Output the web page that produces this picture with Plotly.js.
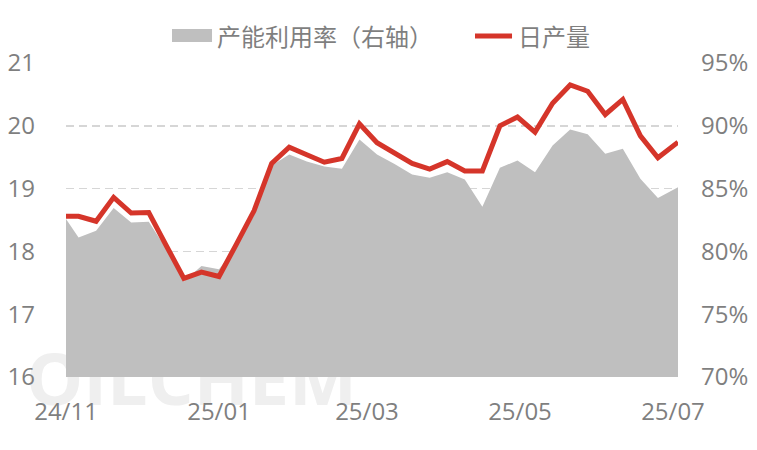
<!DOCTYPE html>
<html>
<head>
<meta charset="utf-8">
<script src="https://cdn.plot.ly/plotly-3.0.1.min.js"></script>
<style>html,body{margin:0;padding:0;background:#fff;}#chart{width:757px;height:450px;}</style>
</head>
<body>
<div id="chart"></div>
<script>
const dates = [
  '2024-11-01','2024-11-06','2024-11-13','2024-11-20','2024-11-27',
  '2024-12-04','2024-12-11','2024-12-18','2024-12-25',
  '2025-01-01','2025-01-08','2025-01-15','2025-01-22','2025-01-29',
  '2025-02-05','2025-02-12','2025-02-19','2025-02-26',
  '2025-03-05','2025-03-12','2025-03-19','2025-03-26',
  '2025-04-02','2025-04-09','2025-04-16','2025-04-23','2025-04-30',
  '2025-05-07','2025-05-14','2025-05-21','2025-05-28',
  '2025-06-04','2025-06-11','2025-06-18','2025-06-25','2025-07-03'
];
const dailyOutput = [
  18.56, 18.56, 18.48, 18.86, 18.61, 18.62, 18.09, 17.57, 17.67,
  17.60, 18.12, 18.65, 19.40, 19.66, 19.54, 19.42, 19.48, 20.03,
  19.73, 19.57, 19.40, 19.31, 19.43, 19.28, 19.28, 20.00, 20.14,
  19.90, 20.36, 20.65, 20.55, 20.18, 20.42, 19.84, 19.49, 19.74
];
const utilization = [
  82.58, 81.11, 81.64, 83.46, 82.31, 82.36, 80.20, 77.60, 78.84,
  78.58, 80.40, 82.90, 86.84, 87.72, 87.16, 86.76, 86.58, 88.90,
  87.72, 86.96, 86.12, 85.86, 86.31, 85.72, 83.56, 86.66, 87.24,
  86.31, 88.44, 89.70, 89.32, 87.78, 88.18, 85.78, 84.26, 85.11
];
const tickDates = ['2024-11-01','2025-01-01','2025-03-01','2025-05-01','2025-07-01'];
const tickLabels = ['24/11','25/01','25/03','25/05','25/07'];
const seriesNames = ['产能利用率（右轴）','日产量'];

const gray = '#bfbfbf', red = '#d5352a', txt = '#7f7f7f';

const traces = [
  {x: dates, y: utilization, name: seriesNames[0], type: 'scatter', mode: 'lines',
   fill: 'tozeroy', fillcolor: gray, line: {width: 0, color: gray}, yaxis: 'y', hoverinfo: 'skip'},
  {x: dates, y: dailyOutput, name: seriesNames[1], type: 'scatter', mode: 'lines',
   line: {width: 5, color: red}, yaxis: 'y2', hoverinfo: 'skip'}
];

const tickFont = {family: '"Open Sans", sans-serif', size: 24, color: txt};
const legFont = {family: '"Noto Sans CJK SC", sans-serif', size: 24, color: txt};

const layout = {
  width: 757, height: 450,
  margin: {l: 66, r: 79, t: 63, b: 73},
  paper_bgcolor: '#fff', plot_bgcolor: '#fff',
  showlegend: false,
  xaxis: {type: 'date', range: [dates[0], dates[dates.length - 1]],
          tickmode: 'array', tickvals: tickDates, ticktext: tickLabels,
          showgrid: false, zeroline: false, showline: false, ticks: '',
          tickfont: tickFont, ticklabelstandoff: 18, fixedrange: true},
  yaxis: {side: 'right', range: [70, 95], dtick: 5, tick0: 70, ticksuffix: '%',
          showgrid: true, gridcolor: '#d6d6d6', gridwidth: 1.6, griddash: '8px,5px',
          zeroline: false, showline: false, ticks: '', tickfont: tickFont,
          ticklabelstandoff: 22, fixedrange: true},
  yaxis2: {overlaying: 'y', side: 'left', range: [16, 21], dtick: 1, tick0: 16,
           showgrid: false, zeroline: false, showline: false, ticks: '',
           tickfont: tickFont, ticklabelstandoff: 30, fixedrange: true},
  shapes: [
    {type: 'rect', xref: 'paper', yref: 'paper', x0: -0.06, x1: 0.47, y0: -0.11, y1: 0.08,
     layer: 'below', line: {width: 0}, fillcolor: 'rgba(0,0,0,0)',
     label: {text: 'OILCHEM', textposition: 'middle center',
             font: {family: '"Open Sans", sans-serif', size: 72, color: '#efefef', weight: 'bold'}}},
    {type: 'rect', xref: 'paper', yref: 'paper', x0: 0.1732, x1: 0.2386, y0: 1.0669, y1: 1.1083,
     line: {width: 0}, fillcolor: gray},
    {type: 'line', xref: 'paper', yref: 'paper', x0: 0.6683, x1: 0.7288, y0: 1.086, y1: 1.086,
     line: {width: 5, color: red}}
  ],
  annotations: [
    {text: seriesNames[0], xref: 'paper', yref: 'paper', x: 0.2435, y: 1.086,
     xanchor: 'left', yanchor: 'middle', showarrow: false, font: legFont},
    {text: seriesNames[1], xref: 'paper', yref: 'paper', x: 0.7353, y: 1.086,
     xanchor: 'left', yanchor: 'middle', showarrow: false, font: legFont}
  ]
};

Plotly.newPlot('chart', traces, layout, {displayModeBar: false, staticPlot: true});
</script>
</body>
</html>
